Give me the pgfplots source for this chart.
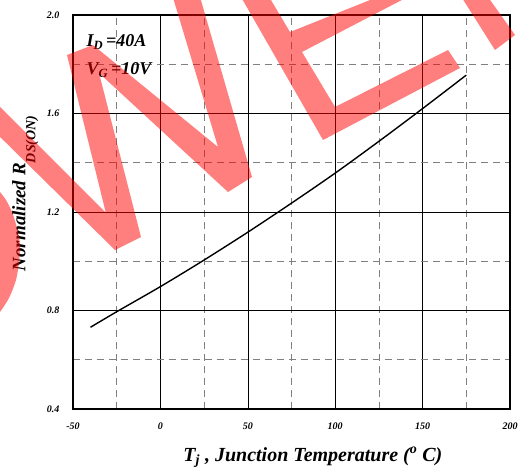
\documentclass[border=0pt]{standalone}
\usepackage{fontspec}
\setmainfont{Liberation Serif}
\usepackage{pgfplots}
\pgfplotsset{compat=1.18}
\begin{document}
\begin{tikzpicture}
\useasboundingbox (0,0) rectangle (519pt,-468pt);
\begin{axis}[
  at={(73pt,-15pt)}, anchor=north west,
  width=437pt, height=394pt, scale only axis,
  xmin=-50, xmax=200, ymin=0.4, ymax=2.0,
  xtick={-50,0,50,100,150,200},
  xticklabels={-50,0,50,100,150,200},
  ytick={0.4,0.8,1.2,1.6,2.0},
  yticklabels={0.4,0.8,1.2,1.6,2.0},
  minor xtick={-25,25,75,125,175},
  minor ytick={0.6,1.0,1.4,1.8},
  grid=both,
  major grid style={black, line width=0.6pt},
  minor grid style={black!50, line width=0.6pt, dash pattern=on 7pt off 5pt},
  major tick length=0pt, minor tick length=0pt,
  axis line style={line width=1.8pt},
  tick label style={font=\fontsize{10}{11}\selectfont\bfseries\itshape},
  yticklabel style={xshift=-10pt},
  xticklabel style={yshift=-10pt},
  xlabel={T\textsubscript{j} , Junction Temperature (\textsuperscript{o} C)},
  xlabel style={at={(axis description cs:0.549,-0.1332)}, anchor=base, font=\fontsize{20}{22}\selectfont\bfseries\itshape},
  ylabel={Normalized R\raisebox{-10pt}{\fontsize{14}{14}\selectfont DS(ON)}},
  ylabel style={at={(axis description cs:-0.1087,0.547)}, anchor=base, font=\fontsize{19}{21}\selectfont\bfseries\itshape},
]
\addplot[black, line width=1.4pt, smooth, tension=0.5] coordinates {
  (-40,0.732) (-25,0.795) (0,0.897) (25,1.005) (50,1.118) (75,1.236)
  (100,1.358) (125,1.487) (150,1.620) (175,1.756)
};
\node[anchor=base west, font=\fontsize{18}{20}\selectfont\bfseries\itshape] at (rel axis cs:0.023,0.919) {I\textsubscript{D}\,=40A};
\node[anchor=base west, font=\fontsize{18}{20}\selectfont\bfseries\itshape] at (rel axis cs:0.023,0.848) {V\textsubscript{G}\,=10V};
\end{axis}
\begin{scope}[x=1pt,y=-1pt]
\clip (0,0) rectangle (519,468);
\fill[red, fill opacity=0.5] (-10,97) -- (105.8,212.8) -- (67,55) -- (93,45) -- (218,147) -- (170.7,-10) -- (198,-10) -- (252,177) -- (228,192) -- (99,73) -- (141,237) -- (115,250) -- (-10,127) -- cycle;
\fill[red, fill opacity=0.5] (-10,185) -- plot[smooth] coordinates {(0,192) (6,200) (12,212) (17,228) (20,245) (19,262) (16,280) (9,298) (0,312)} -- (-10,325) -- cycle;
\fill[red, fill opacity=0.5] (237,-10) -- (323,140) -- (460,68) -- (448,50) -- (335,107) -- (302,52) -- (421,-10) -- (395,-10) -- (290,32) -- (265,-10) -- cycle;
\fill[red, fill opacity=0.5] (457,-10) -- (495,50) -- (515,35) -- (483,-10) -- cycle;
\end{scope}
\end{tikzpicture}
\end{document}
